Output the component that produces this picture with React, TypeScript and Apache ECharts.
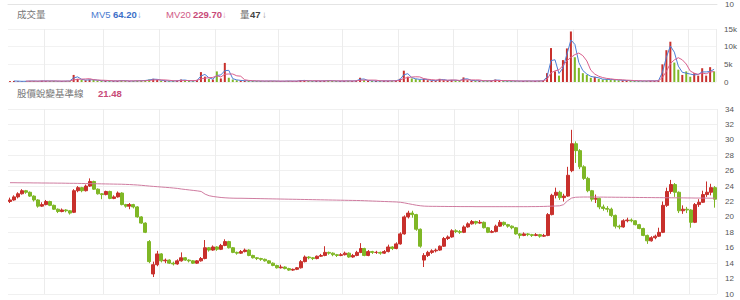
import { useEffect, useRef } from 'react';
import * as echarts from 'echarts';

// [open, close, low, high]
const candles: number[][] = [
  [22.0, 22.2, 21.8, 22.5], [22.2, 22.6, 22.1, 22.8], [22.6, 23.0, 22.4, 23.2], [23.0, 23.4, 22.9, 23.6], [23.4, 23.2, 23.0, 23.5],
  [23.2, 22.7, 22.6, 23.3], [22.7, 22.2, 22.0, 22.8], [22.2, 21.4, 21.2, 22.3], [21.4, 21.6, 21.3, 21.9], [21.6, 22.0, 21.5, 22.2],
  [22.0, 21.5, 21.4, 22.1], [21.5, 21.0, 20.9, 21.6], [21.0, 20.7, 20.5, 21.1], [20.7, 20.9, 20.6, 21.1], [20.9, 20.8, 20.6, 21.0],
  [20.8, 20.5, 20.3, 20.9], [20.6, 23.4, 20.5, 23.6], [23.4, 23.8, 23.2, 24.0], [23.8, 23.4, 23.2, 23.9], [23.4, 24.0, 23.3, 24.2],
  [24.0, 24.6, 23.9, 25.0], [24.6, 23.6, 23.5, 24.7], [23.6, 23.0, 22.9, 23.7], [23.0, 22.9, 22.3, 23.1], [22.9, 23.3, 22.8, 23.4],
  [23.3, 22.4, 22.3, 23.4], [22.4, 22.6, 22.3, 22.8], [22.6, 23.1, 22.5, 23.3], [23.1, 21.6, 21.5, 23.2], [21.6, 21.4, 21.2, 21.7],
  [21.4, 21.6, 21.0, 21.8], [21.6, 21.3, 21.1, 21.7], [21.3, 20.0, 19.9, 21.4], [20.0, 19.2, 19.1, 20.1], [19.2, 18.0, 17.9, 19.3],
  [16.8, 14.2, 14.0, 17.0], [12.6, 13.8, 12.2, 14.2], [13.8, 15.2, 13.6, 15.6], [15.2, 14.3, 14.1, 15.3], [14.3, 14.4, 14.0, 14.6],
  [14.4, 14.0, 13.9, 14.5], [14.0, 13.9, 13.7, 14.2], [13.9, 14.3, 13.8, 14.5], [14.3, 14.7, 14.2, 15.4], [14.7, 14.4, 14.3, 14.8],
  [14.4, 14.3, 14.1, 14.5], [14.3, 14.0, 13.9, 14.4], [14.0, 14.3, 13.9, 14.4], [14.3, 14.6, 14.2, 14.8], [14.6, 16.0, 14.5, 17.0],
  [16.0, 15.7, 15.5, 16.1], [15.7, 16.1, 15.6, 16.3], [16.1, 15.8, 15.6, 16.2], [15.8, 16.3, 15.7, 16.5], [16.3, 16.8, 16.2, 17.1],
  [16.8, 16.0, 15.9, 16.9], [16.0, 15.4, 15.3, 16.1], [15.4, 15.3, 15.1, 15.5], [15.3, 15.5, 15.2, 15.7], [15.5, 15.7, 15.4, 15.9],
  [15.7, 15.0, 14.9, 15.8], [15.0, 14.7, 14.6, 15.1], [14.7, 14.6, 14.4, 14.8], [14.6, 14.5, 14.3, 14.7], [14.5, 14.3, 14.2, 14.6],
  [14.3, 14.0, 13.9, 14.4], [14.0, 13.7, 13.6, 14.1], [13.7, 13.4, 13.3, 13.8], [13.4, 13.5, 13.3, 13.8], [13.5, 13.3, 13.2, 13.6],
  [13.3, 13.1, 13.0, 13.4], [13.1, 13.2, 13.0, 13.3], [13.2, 13.4, 13.1, 13.5], [13.4, 14.2, 13.3, 14.4], [14.2, 14.8, 14.1, 15.0],
  [14.8, 14.7, 14.5, 14.9], [14.7, 14.6, 14.4, 14.8], [14.6, 14.9, 14.5, 15.0], [14.9, 15.0, 14.8, 15.2], [15.0, 15.4, 14.9, 16.2],
  [15.4, 15.3, 15.1, 15.5], [15.3, 15.1, 14.9, 15.4], [15.1, 15.0, 14.8, 15.2], [15.0, 15.1, 14.9, 15.3], [15.1, 15.3, 15.0, 15.5],
  [15.3, 14.8, 14.7, 15.4], [14.8, 15.0, 14.7, 15.2], [15.0, 15.4, 14.9, 15.6], [15.4, 15.9, 15.3, 16.6], [15.9, 15.0, 14.9, 16.0],
  [15.0, 15.5, 14.9, 15.7], [15.5, 15.4, 15.2, 15.6], [15.4, 15.4, 15.2, 15.6], [15.4, 15.3, 15.1, 15.5], [15.3, 15.5, 15.2, 15.7],
  [15.5, 16.1, 15.4, 16.4], [16.1, 15.9, 15.7, 16.2], [15.9, 16.5, 15.8, 16.7], [16.5, 17.8, 16.4, 18.0], [17.8, 20.0, 17.7, 20.2],
  [20.0, 20.5, 19.8, 20.8], [20.5, 20.3, 19.9, 20.8], [20.3, 18.4, 18.2, 20.4], [18.4, 16.2, 16.0, 18.5], [14.4, 15.0, 13.5, 15.3],
  [15.0, 15.4, 14.8, 15.6], [15.4, 15.6, 15.2, 15.8], [15.6, 15.7, 15.4, 15.9], [15.7, 16.2, 15.6, 16.3], [16.2, 17.2, 16.1, 17.4],
  [17.2, 17.4, 17.0, 17.6], [17.4, 18.2, 17.3, 18.4], [18.2, 18.1, 17.9, 18.4], [18.1, 18.0, 17.8, 18.3], [18.0, 18.7, 17.9, 18.9],
  [18.7, 19.1, 18.6, 19.3], [19.1, 19.4, 19.0, 19.6], [19.4, 19.2, 19.0, 19.5], [19.2, 19.3, 19.1, 19.6], [19.3, 18.6, 18.5, 19.4],
  [18.6, 18.0, 17.9, 18.7], [18.0, 18.1, 17.9, 18.3], [18.1, 18.8, 18.0, 19.0], [18.8, 19.3, 18.7, 19.6], [19.3, 19.0, 18.8, 19.4],
  [19.0, 18.8, 18.6, 19.1], [18.8, 18.6, 18.4, 18.9], [18.6, 17.8, 17.7, 18.7], [17.8, 17.6, 17.2, 17.9], [17.6, 17.8, 17.5, 18.0],
  [17.8, 17.7, 17.5, 17.9], [17.7, 17.6, 17.4, 17.8], [17.6, 17.7, 17.5, 17.9], [17.7, 17.5, 17.3, 17.8], [17.5, 17.6, 17.4, 17.8],
  [17.6, 20.3, 17.5, 20.5], [20.3, 22.8, 20.2, 23.0], [22.8, 23.2, 22.4, 23.8], [23.2, 22.5, 22.2, 23.4], [22.5, 22.7, 22.0, 23.0],
  [22.7, 25.4, 22.6, 26.5], [26.0, 29.5, 25.8, 31.3], [29.5, 28.6, 27.0, 29.8], [28.6, 26.5, 26.2, 28.8], [26.5, 25.0, 24.8, 26.7],
  [25.0, 23.4, 23.2, 25.2], [23.4, 22.3, 22.0, 23.5], [22.3, 22.4, 21.8, 22.9], [22.4, 21.3, 21.0, 22.5], [21.3, 21.1, 20.8, 21.6],
  [21.1, 21.0, 20.6, 21.4], [21.0, 20.2, 20.0, 21.2], [20.2, 18.8, 18.5, 20.3], [18.8, 18.7, 18.4, 19.0], [18.7, 19.5, 18.6, 19.7],
  [19.5, 19.6, 19.3, 19.9], [19.6, 19.5, 19.3, 19.8], [19.5, 19.0, 18.9, 19.6], [19.0, 18.5, 18.4, 19.1], [18.5, 17.6, 17.5, 18.6],
  [17.6, 16.9, 16.5, 17.7], [16.9, 17.3, 16.8, 17.5], [17.3, 17.5, 17.1, 17.7], [17.5, 18.0, 17.4, 18.6], [18.0, 21.5, 17.9, 22.0],
  [21.5, 23.3, 21.3, 23.8], [23.3, 24.2, 23.0, 24.8], [24.2, 23.2, 22.6, 24.4], [23.2, 20.8, 20.5, 23.3], [20.8, 21.0, 20.4, 21.5],
  [21.0, 20.9, 20.5, 21.3], [20.9, 19.3, 18.6, 21.0], [19.3, 21.6, 19.2, 21.8], [21.6, 21.9, 21.3, 22.3], [21.9, 22.9, 21.8, 23.4],
  [22.9, 23.2, 22.6, 24.6], [23.2, 23.8, 22.8, 24.3], [23.8, 22.3, 21.2, 24.0],
];

const volumes: number[] = [
  250, 300, 200, 180, 220, 300, 260, 200, 350, 250, 300, 280, 200, 240, 260, 300,
  2000, 900, 600, 500, 700, 600, 400, 350, 300, 350, 250, 300, 450, 300, 250, 300, 350, 400, 450,
  700, 900, 600, 400, 300, 250, 300, 350, 700, 400, 300, 250, 600, 2800, 1500, 900, 700, 3000, 1000, 5400, 1200, 700, 500, 400, 350, 300,
  300, 250, 280, 220, 300, 260, 240, 200, 250, 300, 220, 260, 500, 400, 300, 280, 320, 300, 350, 400, 300, 280, 260, 300, 320, 280, 350,
  1200, 500, 350, 300, 280, 300, 320, 300, 350, 400,
  900, 3200, 1500, 1000, 800, 700, 900, 500, 400, 350, 900, 500, 400, 600, 400, 350, 1300, 500,
  400, 350, 350, 300, 350, 350, 700, 350, 300, 300, 280, 300, 250, 280, 300, 260, 280, 300, 350,
  2500, 9600, 3000, 1800, 6200, 9500, 14300, 7000, 4000, 2500, 2000, 1200, 1500, 900, 700, 800, 600, 700, 500, 450, 400, 350, 300, 300, 250, 300, 350, 300, 400,
  5000, 9000, 11400, 5500, 3500, 2000, 3000, 1500, 2500, 1800, 3900, 1800, 4200, 3000,
];

const baseline: number[] = [
  24.44, 24.44, 24.43, 24.43, 24.42, 24.42, 24.41, 24.41, 24.40, 24.40, 24.39, 24.39, 24.38, 24.38, 24.37, 24.36, 24.36, 24.35, 24.34, 24.33,
  24.32, 24.31, 24.30, 24.29, 24.28, 24.27, 24.26, 24.25, 24.24, 24.22, 24.20, 24.17, 24.14, 24.10,
  24.05, 24.00, 23.96, 23.92, 23.88, 23.84, 23.80, 23.75, 23.70,
  23.62, 23.56, 23.50, 23.44, 23.38,
  23.30, 22.95, 22.75, 22.65, 22.58, 22.52, 22.48, 22.45,
  22.43, 22.42, 22.42, 22.41, 22.40, 22.39, 22.38, 22.37, 22.36, 22.35, 22.34, 22.33, 22.32, 22.31, 22.30, 22.29, 22.28, 22.27, 22.26, 22.25, 22.24, 22.23, 22.22, 22.21, 22.20,
  22.19, 22.18, 22.17, 22.16, 22.15, 22.14, 22.13, 22.12, 22.10, 22.08, 22.06, 22.04, 22.02, 22.00, 21.98, 21.96, 21.94,
  21.90, 21.82, 21.72, 21.62, 21.52, 21.45, 21.40,
  21.38, 21.37, 21.37, 21.36, 21.36, 21.35, 21.35, 21.35, 21.34, 21.34, 21.34, 21.34, 21.33, 21.33, 21.33, 21.33, 21.33, 21.33, 21.33, 21.33,
  21.33, 21.33, 21.33, 21.33, 21.33, 21.33, 21.34, 21.34, 21.35, 21.36, 21.38, 21.40, 21.42, 21.44,
  21.60, 22.10, 22.45,
  22.55, 22.57, 22.58, 22.58, 22.58, 22.58, 22.57, 22.57, 22.56, 22.56, 22.55, 22.55, 22.54, 22.54, 22.53, 22.53, 22.52, 22.52, 22.51, 22.51,
  22.50, 22.50, 22.49, 22.49, 22.48, 22.48, 22.47, 22.47, 22.46, 22.46, 22.45, 22.45, 22.44, 22.44, 22.43, 22.43,
];

const categories: string[] = candles.map((_, i) => 'D' + (i + 1));
const periodStarts: number[] = [9, 24, 38, 52, 68, 84, 98, 112, 128, 142, 157, 171];
const legendMV5 = '64.20';
const legendMV20 = '229.70';
const legendVol = '47';
const legendBase = '21.48';

const UP = '#c8302c';
const DOWN = '#7fb726';
const FONT = '"Liberation Sans", "Noto Sans CJK TC", sans-serif';

function movingAverage(values: number[], n: number): (number | string)[] {
  return values.map((_, i) => {
    if (i < n - 1) return '-';
    let s = 0;
    for (let k = i - n + 1; k <= i; k++) s += values[k];
    return +(s / n).toFixed(1);
  });
}

function txt(left: number, top: number, text: string, fill: string, bold = false) {
  return {
    type: 'text',
    left,
    top,
    style: { text, fill, fontSize: 9.5, fontFamily: FONT, fontWeight: bold ? 'bold' : 'normal' },
  };
}

export default function App() {
  const ref = useRef<HTMLDivElement>(null);
  useEffect(() => {
    if (!ref.current) return;
    const chart = echarts.init(ref.current, null, { renderer: 'svg' });
    const splitInterval = (index: number) => periodStarts.includes(index);
    const axisLabelStyle = { fontSize: 8, color: '#555', fontFamily: FONT, margin: 8 };
    chart.setOption({
      animation: false,
      backgroundColor: '#ffffff',
      grid: [
        { left: 8, right: 23, top: 0, height: 4 },
        { left: 8, right: 23, top: 29, height: 53 },
        { left: 8, right: 23, top: 109, height: 185 },
      ],
      xAxis: [0, 1, 2].map((g) => ({
        type: 'category',
        gridIndex: g,
        data: categories,
        boundaryGap: true,
        axisLine: { show: g === 0, lineStyle: { color: '#e4e4e4' } },
        axisTick: { show: false },
        axisLabel: { show: false },
        splitLine: {
          show: g !== 0,
          interval: splitInterval,
          lineStyle: { color: '#ececec', width: 1 },
        },
      })),
      yAxis: [
        {
          gridIndex: 0, type: 'value', position: 'right', min: 10, max: 20, interval: 10,
          axisLine: { show: false }, axisTick: { show: false },
          axisLabel: { ...axisLabelStyle, formatter: (v: number) => (v === 10 ? '10' : '') },
          splitLine: { show: false },
        },
        {
          gridIndex: 1, type: 'value', position: 'right', min: 0, max: 15000, interval: 5000,
          axisLine: { show: false }, axisTick: { show: false },
          axisLabel: { ...axisLabelStyle, formatter: (v: number) => (v === 0 ? '0' : v / 1000 + 'k') },
          splitLine: { lineStyle: { color: '#f2f2f2' } },
        },
        {
          gridIndex: 2, type: 'value', position: 'right', min: 10, max: 34, interval: 2,
          axisLine: { show: false }, axisTick: { show: false },
          axisLabel: { ...axisLabelStyle },
          splitLine: { lineStyle: { color: '#f0f0f0' } },
        },
      ],
      series: [
        {
          name: '成交量',
          type: 'bar',
          xAxisIndex: 1,
          yAxisIndex: 1,
          barWidth: 2,
          data: volumes.map((v, i) => ({
            value: v,
            itemStyle: { color: candles[i][1] >= candles[i][0] ? UP : DOWN },
          })),
        },
        {
          name: 'MV5',
          type: 'line',
          xAxisIndex: 1,
          yAxisIndex: 1,
          data: movingAverage(volumes, 2),
          showSymbol: false,
          lineStyle: { color: '#4d7fd6', width: 1 },
        },
        {
          name: 'MV20',
          type: 'line',
          xAxisIndex: 1,
          yAxisIndex: 1,
          data: movingAverage(volumes, 5),
          showSymbol: false,
          lineStyle: { color: '#d9608e', width: 1 },
        },
        {
          name: '股價',
          type: 'candlestick',
          xAxisIndex: 2,
          yAxisIndex: 2,
          barWidth: '88%',
          data: candles,
          itemStyle: { color: UP, color0: DOWN, borderColor: UP, borderColor0: DOWN, borderWidth: 1 },
        },
        {
          name: '股價蛻變基準線',
          type: 'line',
          xAxisIndex: 2,
          yAxisIndex: 2,
          data: baseline,
          showSymbol: false,
          lineStyle: { color: '#cf7ca0', width: 1 },
        },
      ],
      graphic: [
        txt(17, 10, '成交量', '#777'),
        txt(91, 10, 'MV5', '#4a7bd0'),
        txt(113, 10, legendMV5, '#3c6fc8', true),
        txt(137, 10, '↓', '#8aa6dc'),
        txt(166, 10, 'MV20', '#d05a86'),
        txt(193, 10, legendMV20, '#c84a78', true),
        txt(222, 10, '↓', '#e0a0b8'),
        txt(240, 10, '量', '#666'),
        txt(250, 10, legendVol, '#444', true),
        txt(262, 10, '↓', '#999'),
        txt(17, 89, '股價蛻變基準線', '#777'),
        txt(98, 89, legendBase, '#c84a78', true),
      ],
    });
    return () => chart.dispose();
  }, []);
  return <div ref={ref} style={{ position: 'fixed', left: 0, top: 0, width: 740, height: 300 }} />;
}
